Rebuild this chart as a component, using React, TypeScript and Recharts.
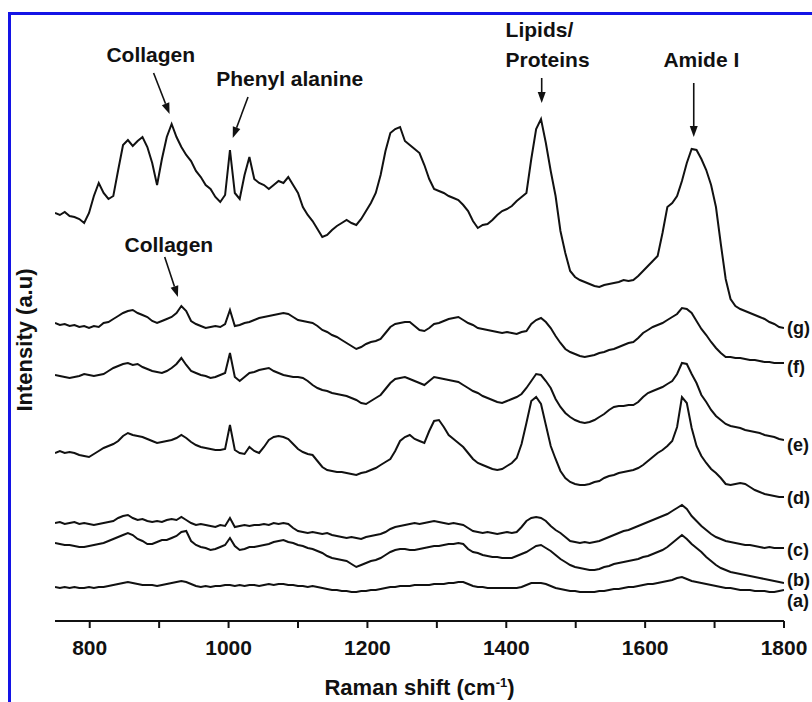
import React from "react";
import { LineChart, Line, XAxis, YAxis, ReferenceLine, ReferenceDot } from "recharts";

// Raman shift grid (cm-1), every 7 cm-1
const shift = [
  750, 757, 764, 771, 778, 785, 792, 799, 806, 813, 820, 827, 834, 841, 848, 855, 862, 869, 876, 883,
  890, 897, 904, 911, 918, 925, 932, 939, 946, 953, 960, 967, 974, 981, 988, 995, 1002, 1009, 1016, 1023,
  1030, 1037, 1044, 1051, 1058, 1065, 1072, 1079, 1086, 1093, 1100, 1107, 1114, 1121, 1128, 1135, 1142, 1149, 1156, 1163,
  1170, 1177, 1184, 1191, 1198, 1205, 1212, 1219, 1226, 1233, 1240, 1247, 1254, 1261, 1268, 1275, 1282, 1289, 1296, 1303,
  1310, 1317, 1324, 1331, 1338, 1345, 1352, 1359, 1366, 1373, 1380, 1387, 1394, 1401, 1408, 1415, 1422, 1429, 1436, 1443,
  1450, 1457, 1464, 1471, 1478, 1485, 1492, 1499, 1506, 1513, 1520, 1527, 1534, 1541, 1548, 1555, 1562, 1569, 1576, 1583,
  1590, 1597, 1604, 1611, 1618, 1625, 1632, 1639, 1646, 1653, 1660, 1667, 1674, 1681, 1688, 1695, 1702, 1709, 1716, 1723,
  1730, 1737, 1744, 1751, 1758, 1765, 1772, 1779, 1786, 1793, 1800,
];

// intensities (a.u., stacked with offsets as in the figure)
const specG = [
  408, 406, 409, 405, 404, 402, 398, 408, 425, 438, 428, 422, 425, 451, 476, 481, 475, 480, 484, 474,
  458, 436, 462, 484, 497, 484, 474, 466, 460, 450, 444, 436, 432, 424, 419, 426, 471, 428, 422, 446,
  464, 442, 438, 436, 432, 436, 440, 438, 444, 436, 428, 414, 406, 400, 392, 384, 386, 391, 395, 398,
  401, 398, 396, 402, 410, 418, 428, 446, 470, 488, 492, 494, 480, 476, 472, 468, 456, 442, 432, 430,
  428, 425, 423, 421, 416, 410, 400, 393, 396, 397, 401, 406, 410, 412, 415, 420, 424, 428, 462, 492,
  502, 478, 450, 425, 390, 368, 350, 344, 341, 339, 337, 335, 334, 336, 337, 338, 339, 341, 340, 341,
  345, 350, 355, 360, 365, 388, 414, 418, 425, 440, 458, 472, 471, 462, 451, 436, 414, 377, 342, 322,
  315, 312, 310, 308, 306, 304, 302, 299, 297, 294, 293,
];

const specF = [
  298, 296, 297, 295, 296, 294, 295, 293, 295, 294, 298, 299, 302, 305, 308, 310, 311, 308, 306, 304,
  300, 298, 300, 302, 304, 308, 315, 310, 300, 297, 295, 293, 294, 295, 294, 297, 311, 295, 296, 298,
  299, 301, 303, 304, 305, 306, 307, 308, 307, 304, 301, 300, 299, 298, 295, 291, 289, 286, 284, 281,
  278, 275, 272, 274, 277, 279, 280, 282, 288, 294, 297, 298, 299, 299, 295, 291, 290, 293, 297, 298,
  300, 302, 303, 304, 301, 298, 296, 293, 292, 291, 290, 289, 288, 289, 288, 287, 289, 290, 297, 301,
  303, 299, 293, 285, 278, 272, 269, 267, 265, 264, 265, 266, 268, 269, 271, 272, 274, 276, 278, 279,
  283, 288, 291, 294, 296, 298, 301, 304, 307, 313, 312, 308, 300, 292, 286, 279, 273, 268, 264, 264,
  263, 263, 262, 261, 261, 260, 259, 259, 258, 258, 258,
];

const specE = [
  246, 245, 244, 243, 244, 245, 247, 246, 245, 246, 247, 250, 253, 255, 257, 258, 256, 257, 254, 252,
  250, 249, 248, 250, 253, 257, 263, 256, 250, 248, 246, 245, 243, 244, 246, 248, 268, 244, 240, 244,
  248, 249, 251, 252, 253, 250, 248, 246, 245, 244, 244, 243, 240, 236, 233, 231, 230, 228, 227, 226,
  225, 223, 221, 218, 217, 220, 223, 226, 232, 238, 242, 243, 244, 242, 240, 238, 236, 240, 244, 243,
  242, 241, 240, 239, 236, 233, 230, 228, 225, 223, 221, 219, 218, 220, 222, 224, 227, 233, 240, 247,
  246, 240, 233, 222, 214, 208, 204, 201, 199, 198, 199, 201, 204, 207, 211, 214, 215, 215, 216, 216,
  219, 224, 228, 230, 232, 234, 237, 240, 247, 258, 257, 247, 238, 226, 219, 211, 205, 201, 197, 195,
  194, 193, 191, 190, 189, 188, 186, 185, 184, 182, 181,
];

const specD = [
  168, 170, 168, 169, 168, 166, 165, 164, 167, 170, 173, 175, 177, 180, 185, 188, 186, 185, 184, 182,
  180, 178, 179, 180, 181, 183, 186, 183, 179, 176, 174, 173, 172, 171, 171, 172, 196, 171, 168, 167,
  174, 170, 168, 174, 181, 184, 185, 184, 182, 177, 172, 169, 167, 166, 160, 154, 151, 150, 149, 149,
  148, 147, 146, 148, 149, 151, 153, 156, 159, 162, 170, 180, 184, 186, 182, 180, 178, 190, 200, 201,
  194, 186, 182, 178, 174, 168, 162, 158, 156, 154, 152, 151, 152, 155, 158, 163, 177, 198, 220, 224,
  217, 196, 175, 162, 150, 143, 139, 137, 136, 136, 137, 139, 140, 143, 145, 146, 148, 149, 150, 151,
  153, 156, 160, 164, 168, 171, 175, 180, 194, 224, 218, 193, 175, 165, 158, 152, 148, 143, 137, 136,
  137, 138, 137, 134, 131, 129, 127, 126, 125, 124, 124,
];

const specC = [
  98, 99, 97, 98, 99, 97, 98, 97, 96, 97, 98, 99, 100, 103, 105, 106, 103, 101, 102, 100,
  99, 100, 99, 101, 102, 101, 104, 101, 98, 96, 97, 96, 95, 94, 96, 95, 103, 94, 95, 96,
  95, 96, 96, 97, 96, 98, 97, 98, 97, 93, 90, 89, 88, 89, 88, 87, 88, 86, 85, 84,
  83, 84, 83, 82, 84, 85, 86, 87, 89, 92, 94, 95, 96, 97, 98, 97, 98, 99, 100, 99,
  98, 97, 98, 97, 96, 93, 90, 89, 88, 89, 88, 87, 88, 89, 88, 89, 94, 100, 103, 104,
  103, 100, 95, 91, 88, 84, 80, 79, 78, 79, 78, 79, 80, 82, 84, 86, 88, 90, 91, 93,
  95, 97, 99, 101, 103, 105, 107, 110, 113, 116, 112, 105, 100, 95, 91, 87, 84, 82, 80, 79,
  78, 77, 76, 76, 75, 74, 73, 74, 73, 73, 73,
];

const specB = [
  78, 77, 76, 76, 75, 74, 74, 75, 76, 77, 78, 80, 82, 84, 86, 88, 86, 82, 80, 77,
  77, 79, 81, 81, 83, 85, 89, 90, 80, 76, 74, 73, 71, 72, 74, 76, 83, 75, 71, 72,
  74, 74, 75, 76, 77, 79, 80, 81, 79, 78, 76, 75, 73, 72, 70, 68, 65, 63, 62, 61,
  60, 57, 54, 56, 58, 60, 61, 63, 66, 69, 71, 72, 72, 71, 71, 72, 73, 74, 75, 75,
  76, 77, 77, 78, 77, 72, 69, 68, 66, 65, 64, 64, 63, 63, 63, 65, 67, 69, 72, 75,
  76, 73, 70, 66, 62, 59, 56, 54, 53, 52, 51, 51, 52, 54, 55, 57, 58, 59, 60, 61,
  62, 64, 65, 67, 69, 71, 74, 78, 82, 86, 82, 77, 73, 69, 64, 60, 56, 53, 51, 49,
  48, 47, 46, 45, 44, 43, 42, 41, 40, 39, 38,
];

const specA = [
  34, 33, 34, 33, 34, 33, 33, 34, 33, 34, 34, 35, 36, 37, 38, 39, 38, 37, 36, 36,
  36, 35, 36, 37, 38, 39, 40, 39, 37, 35, 34, 35, 34, 35, 35, 36, 36, 35, 36, 35,
  36, 36, 35, 36, 37, 36, 37, 37, 36, 36, 35, 35, 34, 35, 34, 33, 32, 31, 31, 30,
  30, 29, 29, 30, 30, 31, 31, 32, 33, 34, 34, 35, 35, 35, 36, 36, 36, 36, 37, 37,
  37, 38, 38, 39, 39, 37, 35, 34, 34, 33, 33, 33, 33, 33, 33, 33, 34, 36, 38, 38,
  38, 37, 35, 33, 32, 31, 30, 30, 29, 29, 29, 29, 30, 30, 31, 32, 32, 33, 34, 34,
  35, 36, 37, 37, 38, 39, 40, 41, 43, 44, 42, 40, 39, 38, 37, 36, 35, 34, 33, 33,
  32, 31, 31, 31, 30, 30, 30, 29, 29, 30, 31,
];

const seriesKeys = ["g", "f", "e", "d", "c", "b", "a"];
const seriesValues = [specG, specF, specE, specD, specC, specB, specA];

const shiftTicks = [800, 900, 1000, 1100, 1200, 1300, 1400, 1500, 1600, 1700, 1800];

// series tags drawn just right of the x range
const tagHeights = [293, 254, 176, 123, 71, 41, 20];

// peak annotations: text anchor and arrow (tail -> tip), in chart units
const notes = [
  { text: "Collagen", at: [888, 559], anchor: "middle" },
  { text: "Phenyl alanine", at: [1088, 535], anchor: "middle" },
  { text: "Lipids/", at: [1399, 584], anchor: "start" },
  { text: "Proteins", at: [1399, 554], anchor: "start" },
  { text: "Amide I", at: [1681, 554], anchor: "middle" },
  { text: "Collagen", at: [914, 369], anchor: "middle" },
];

const arrows = [
  { from: [892, 548], to: [915, 507] },
  { from: [1028, 524], to: [1006, 483] },
  { from: [1451, 543], to: [1451, 518] },
  { from: [1670, 538], to: [1670, 484] },
  { from: [908, 364], to: [927, 324] },
];

const rows = shift.map((s, i) => {
  const row: Record<string, number> = { shift: s };
  seriesKeys.forEach((k, j) => {
    row[k] = seriesValues[j][i];
  });
  return row;
});

const FONT = "'Liberation Sans', Arial, sans-serif";
const INK = "#111";

function ArrowShape(props: any) {
  const { x1, y1, x2, y2 } = props;
  const ang = Math.atan2(y2 - y1, x2 - x1);
  const len = 11;
  const half = 4;
  const bx = x2 - len * Math.cos(ang);
  const by = y2 - len * Math.sin(ang);
  const px = -Math.sin(ang) * half;
  const py = Math.cos(ang) * half;
  return (
    <g>
      <line x1={x1} y1={y1} x2={bx} y2={by} stroke={INK} strokeWidth={1.6} />
      <polygon points={`${x2},${y2} ${bx + px},${by + py} ${bx - px},${by - py}`} fill={INK} />
    </g>
  );
}

export default function App() {
  return (
    <div style={{ position: "absolute", left: 0, top: 0, width: 812, height: 702, overflow: "hidden", background: "#fff" }}>
      <div
        style={{
          position: "absolute",
          left: 8,
          top: 12,
          width: 820,
          height: 710,
          borderLeft: "3px solid #1414e6",
          borderTop: "3px solid #1414e6",
        }}
      />
      <div
        style={{
          position: "absolute",
          left: -75,
          top: 326,
          width: 200,
          lineHeight: "28px",
          textAlign: "center",
          transform: "rotate(-90deg)",
          fontFamily: FONT,
          fontWeight: 700,
          fontSize: 22,
          color: INK,
        }}
      >
        Intensity (a.u)
      </div>
      <div style={{ position: "absolute", left: 0, top: 0 }}>
        <LineChart data={rows} width={812} height={702} margin={{ top: 33, right: 28, left: 55, bottom: 31 }}>
          <XAxis
            dataKey="shift"
            type="number"
            domain={[750, 1800]}
            ticks={shiftTicks}
            allowDataOverflow
            height={50}
            tickSize={7}
            tickMargin={12}
            tickFormatter={(v: number) => (v % 200 === 0 ? String(v) : "")}
            tick={{ fill: INK, fontSize: 21, fontWeight: 700, fontFamily: FONT }}
            axisLine={{ stroke: INK, strokeWidth: 2 }}
            tickLine={{ stroke: INK, strokeWidth: 2 }}
            label={{
              content: (p: any) => {
                const vb = p.viewBox;
                return (
                  <text
                    x={vb.x + vb.width / 2}
                    y={vb.y + 74}
                    textAnchor="middle"
                    fill={INK}
                    fontSize={22}
                    fontWeight={700}
                    fontFamily={FONT}
                  >
                    Raman shift (cm
                    <tspan dy={-8} fontSize={13}>-1</tspan>
                    <tspan dy={8}>)</tspan>
                  </text>
                );
              },
            }}
          />
          <YAxis
            type="number"
            domain={[0, 588]}
            width={0}
            tick={false}
            tickLine={false}
            axisLine={{ stroke: INK, strokeWidth: 2 }}
          />
          {seriesKeys.map((k) => (
            <Line
              key={k}
              dataKey={k}
              type="linear"
              stroke={INK}
              strokeWidth={2}
              strokeLinejoin="miter"
              dot={false}
              activeDot={false}
              isAnimationActive={false}
            />
          ))}
          {arrows.map((a, i) => (
            <ReferenceLine
              key={`arrow-${i}`}
              segment={[
                { x: a.from[0], y: a.from[1] },
                { x: a.to[0], y: a.to[1] },
              ]}
              ifOverflow="visible"
              shape={ArrowShape}
            />
          ))}
          {notes.map((n, i) => (
            <ReferenceDot
              key={`note-${i}`}
              x={n.at[0]}
              y={n.at[1]}
              ifOverflow="visible"
              shape={(p: any) => (
                <text
                  x={p.cx}
                  y={p.cy}
                  textAnchor={n.anchor as any}
                  fill={INK}
                  fontSize={21}
                  fontWeight={700}
                  fontFamily={FONT}
                >
                  {n.text}
                </text>
              )}
            />
          ))}
          {seriesKeys.map((k, i) => (
            <ReferenceDot
              key={`tag-${k}`}
              x={1800}
              y={tagHeights[i]}
              ifOverflow="visible"
              shape={(p: any) => (
                <text
                  x={p.cx + 3}
                  y={p.cy}
                  dominantBaseline="central"
                  fill={INK}
                  fontSize={18}
                  fontWeight={700}
                  fontFamily={FONT}
                >
                  {`(${k})`}
                </text>
              )}
            />
          ))}
        </LineChart>
      </div>
    </div>
  );
}
